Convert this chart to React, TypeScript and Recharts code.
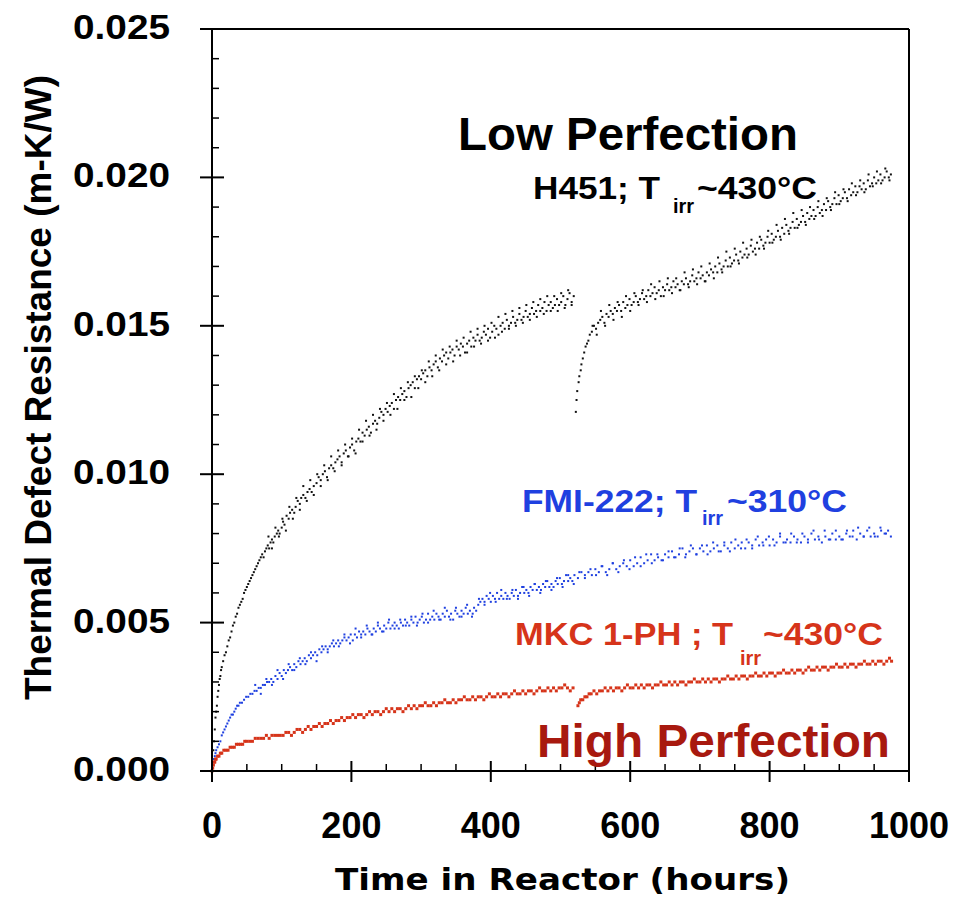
import React from "react";
import { ScatterChart, Scatter, XAxis, YAxis } from "recharts";

// ---- data: [hours, m-K/W] ----
const h451Before: [number, number][] = [
  [0, 0], [1, 0.0004], [2, 0.0007], [3, 0.001], [4, 0.0014], [5, 0.0018], [6, 0.002], [7, 0.0022], [8, 0.0025], [9, 0.0027],
  [10, 0.0029], [11, 0.0031], [12, 0.0032], [13, 0.0034], [14, 0.0035], [16, 0.0037], [18, 0.0039], [20, 0.004], [22, 0.0042],
  [24, 0.0044], [26, 0.0045], [28, 0.0047], [30, 0.0049], [32, 0.005], [34, 0.0052], [36, 0.0053], [38, 0.0055], [40, 0.0056],
  [42, 0.0057], [44, 0.0058], [46, 0.006], [48, 0.0061], [50, 0.0062], [52, 0.0063], [54, 0.0064], [56, 0.0065], [58, 0.0066],
  [60, 0.0067], [62, 0.0068], [64, 0.0069], [66, 0.007], [68, 0.0071], [70, 0.0072], [72, 0.0073], [74, 0.0072], [76, 0.0074],
  [78, 0.0075], [80, 0.0076], [82, 0.0075], [84, 0.0077], [86, 0.0078], [88, 0.0077], [90, 0.0079], [93, 0.008], [95, 0.0081],
  [97, 0.008], [100, 0.0082], [102, 0.0084], [104, 0.0083], [107, 0.0086], [110, 0.0085], [112, 0.0087], [115, 0.0088],
  [118, 0.0087], [120, 0.0089], [123, 0.0091], [126, 0.009], [128, 0.0092], [131, 0.0093], [134, 0.0092], [137, 0.0094],
  [140, 0.0095], [143, 0.0094], [146, 0.0096], [150, 0.0097], [153, 0.0099], [156, 0.0098], [159, 0.01], [162, 0.0101],
  [165, 0.0099], [168, 0.0102], [171, 0.0103], [174, 0.0102], [177, 0.0104], [180, 0.0105], [183, 0.0106], [186, 0.0104],
  [189, 0.0107], [192, 0.0108], [195, 0.0106], [198, 0.0109], [201, 0.011], [204, 0.0108], [207, 0.0111], [210, 0.0112],
  [213, 0.0111], [216, 0.0114], [219, 0.0113], [222, 0.0115], [225, 0.0116], [228, 0.0114], [231, 0.0117], [234, 0.0118],
  [237, 0.0117], [240, 0.0119], [243, 0.0121], [246, 0.012], [249, 0.0122], [252, 0.0121], [255, 0.0123], [258, 0.0124],
  [261, 0.0122], [264, 0.0125], [267, 0.0126], [270, 0.0125], [273, 0.0127], [276, 0.0128], [279, 0.0126], [282, 0.0129],
  [285, 0.013], [288, 0.0131], [291, 0.0129], [294, 0.0132], [297, 0.0133], [300, 0.0132], [303, 0.0134], [306, 0.0135],
  [309, 0.0133], [312, 0.0136], [315, 0.0135], [318, 0.0137], [321, 0.0138], [324, 0.0136], [327, 0.0139], [330, 0.0138],
  [333, 0.014], [336, 0.0141], [339, 0.0139], [342, 0.0141], [345, 0.0142], [348, 0.014], [351, 0.0143], [354, 0.0142],
  [357, 0.0144], [360, 0.0143], [363, 0.0141], [366, 0.0144], [369, 0.0145], [372, 0.0143], [375, 0.0146], [378, 0.0145],
  [381, 0.0147], [384, 0.0145], [387, 0.0146], [390, 0.0148], [393, 0.0147], [396, 0.0149], [399, 0.0146], [402, 0.0148],
  [405, 0.015], [408, 0.0149], [411, 0.0147], [414, 0.015], [417, 0.0151], [420, 0.0149], [423, 0.0152], [426, 0.015],
  [429, 0.0151], [432, 0.0153], [435, 0.0151], [438, 0.0152], [441, 0.0154], [444, 0.0152], [447, 0.0153], [450, 0.0155],
  [453, 0.0153], [456, 0.0154], [459, 0.0156], [462, 0.0154], [465, 0.0155], [468, 0.0157], [471, 0.0155], [474, 0.0156],
  [477, 0.0158], [480, 0.0155], [483, 0.0157], [486, 0.0158], [489, 0.0156], [492, 0.0157], [495, 0.0159], [498, 0.0157],
  [501, 0.0158], [504, 0.016], [507, 0.0157], [510, 0.0159], [513, 0.0161], [516, 0.0158], [519, 0.016],
];

// outer scatter of the H451 band before the gap
const h451BeforeSpread: [number, number][] = [
  [81, 0.0079], [86, 0.0075], [91, 0.0082], [96, 0.0079], [101, 0.0085], [106, 0.0081], [111, 0.0089], [116, 0.0085],
  [121, 0.0092], [126, 0.0088], [131, 0.0096], [136, 0.0091], [141, 0.0098], [146, 0.0093], [151, 0.01], [156, 0.0096],
  [161, 0.0103], [166, 0.0098], [171, 0.0106], [176, 0.0101], [181, 0.0108], [186, 0.0103], [191, 0.011], [196, 0.0106],
  [201, 0.0112], [206, 0.0107], [211, 0.0115], [216, 0.0111], [221, 0.0118], [226, 0.0113], [231, 0.012], [236, 0.0115],
  [241, 0.0122], [246, 0.0118], [251, 0.0124], [256, 0.012], [261, 0.0127], [266, 0.0122], [271, 0.0129], [276, 0.0125],
  [281, 0.0131], [286, 0.0126], [291, 0.0133], [296, 0.0129], [301, 0.0135], [306, 0.0131], [311, 0.0138], [316, 0.0133],
  [321, 0.014], [326, 0.0135], [331, 0.0142], [336, 0.0137], [341, 0.0143], [346, 0.0138], [351, 0.0145], [356, 0.014],
  [361, 0.0146], [366, 0.0141], [371, 0.0148], [376, 0.0143], [381, 0.0149], [386, 0.0144], [391, 0.015], [396, 0.0145],
  [401, 0.0151], [406, 0.0146], [411, 0.0153], [416, 0.0148], [421, 0.0154], [426, 0.0149], [431, 0.0155], [436, 0.015],
  [441, 0.0156], [446, 0.0151], [451, 0.0157], [456, 0.0152], [461, 0.0158], [466, 0.0153], [471, 0.0159], [476, 0.0154],
  [481, 0.016], [486, 0.0155], [491, 0.016], [496, 0.0155], [501, 0.0161], [506, 0.0156], [511, 0.0162], [516, 0.0157],
];

const h451After: [number, number][] = [
  [522, 0.0121], [523, 0.0125], [524, 0.0128], [526, 0.0131], [527, 0.0133], [529, 0.0135], [530, 0.0137], [532, 0.0139],
  [534, 0.0141], [536, 0.0143], [538, 0.0144], [540, 0.0145], [542, 0.0147], [545, 0.0148], [548, 0.015], [551, 0.0149],
  [554, 0.0151], [557, 0.0152], [560, 0.0153], [563, 0.0151], [566, 0.0154], [569, 0.0153], [572, 0.0155], [575, 0.0154],
  [578, 0.0156], [581, 0.0155], [584, 0.0157], [587, 0.0155], [590, 0.0158], [593, 0.0156], [596, 0.0157], [599, 0.0159],
  [602, 0.0157], [605, 0.0158], [608, 0.016], [611, 0.0158], [614, 0.0159], [617, 0.0161], [620, 0.0159], [623, 0.016],
  [626, 0.0162], [629, 0.016], [632, 0.0161], [635, 0.0163], [638, 0.0161], [641, 0.0162], [644, 0.016], [647, 0.0163],
  [650, 0.0162], [653, 0.0164], [656, 0.0162], [659, 0.0163], [662, 0.0165], [665, 0.0163], [668, 0.0164], [671, 0.0162],
  [674, 0.0165], [677, 0.0164], [680, 0.0166], [683, 0.0164], [686, 0.0165], [689, 0.0167], [692, 0.0165], [695, 0.0166],
  [698, 0.0168], [701, 0.0166], [704, 0.0167], [707, 0.0165], [710, 0.0168], [713, 0.0167], [716, 0.0169], [719, 0.0168],
  [722, 0.017], [725, 0.0168], [728, 0.0171], [731, 0.0169], [734, 0.017], [737, 0.0172], [740, 0.017], [743, 0.0173],
  [746, 0.0171], [749, 0.0172], [752, 0.0174], [755, 0.0172], [758, 0.0175], [761, 0.0173], [764, 0.0174], [767, 0.0176],
  [770, 0.0174], [773, 0.0177], [776, 0.0175], [779, 0.0176], [782, 0.0178], [785, 0.0176], [788, 0.0179], [791, 0.0177],
  [794, 0.0178], [797, 0.018], [800, 0.0178], [803, 0.0181], [806, 0.0179], [809, 0.018], [812, 0.0182], [815, 0.018],
  [818, 0.0183], [821, 0.0181], [824, 0.0184], [827, 0.0182], [830, 0.0183], [833, 0.0185], [836, 0.0183], [839, 0.0186],
  [842, 0.0184], [845, 0.0185], [848, 0.0187], [851, 0.0185], [854, 0.0188], [857, 0.0186], [860, 0.0187], [863, 0.0189],
  [866, 0.0187], [869, 0.019], [872, 0.0188], [875, 0.0189], [878, 0.0191], [881, 0.0189], [884, 0.0192], [887, 0.019],
  [890, 0.0191], [893, 0.0193], [896, 0.0191], [899, 0.0194], [902, 0.0192], [905, 0.0193], [908, 0.0195], [911, 0.0193],
  [914, 0.0196], [917, 0.0194], [920, 0.0195], [923, 0.0197], [926, 0.0195], [929, 0.0197], [932, 0.0196], [935, 0.0198],
  [938, 0.0196], [941, 0.0199], [944, 0.0197], [947, 0.0198], [950, 0.02], [953, 0.0198], [956, 0.0199], [959, 0.0201],
  [962, 0.0199], [965, 0.02], [968, 0.0202], [971, 0.02], [974, 0.0201],
];

const h451AfterSpread: [number, number][] = [
  [546, 0.015], [552, 0.0147], [558, 0.0155], [564, 0.015], [570, 0.0157], [576, 0.0152], [582, 0.0158], [588, 0.0153],
  [594, 0.016], [600, 0.0155], [606, 0.0161], [612, 0.0157], [618, 0.0162], [624, 0.0158], [630, 0.0164], [636, 0.0159],
  [642, 0.0165], [648, 0.016], [654, 0.0166], [660, 0.0161], [666, 0.0166], [672, 0.0162], [678, 0.0168], [684, 0.0163],
  [690, 0.0169], [696, 0.0164], [702, 0.017], [708, 0.0165], [714, 0.0171], [720, 0.0166], [726, 0.0173], [732, 0.0168],
  [738, 0.0175], [744, 0.017], [750, 0.0176], [756, 0.0171], [762, 0.0178], [768, 0.0173], [774, 0.0179], [780, 0.0174],
  [786, 0.018], [792, 0.0176], [798, 0.0182], [804, 0.0178], [810, 0.0184], [816, 0.0179], [822, 0.0186], [828, 0.0181],
  [834, 0.0188], [840, 0.0183], [846, 0.0189], [852, 0.0184], [858, 0.019], [864, 0.0186], [870, 0.0192], [876, 0.0187],
  [882, 0.0193], [888, 0.0189], [894, 0.0195], [900, 0.0191], [906, 0.0196], [912, 0.0192], [918, 0.0198], [924, 0.0194],
  [930, 0.0199], [936, 0.0195], [942, 0.0201], [948, 0.0197], [954, 0.0202], [960, 0.0198], [966, 0.0203], [972, 0.0199],
];

const fmi222: [number, number][] = [
  [0, 0], [1, 0.0002], [2, 0.0003], [3, 0.0004], [4, 0.0005], [5, 0.0006], [6, 0.0007], [8, 0.0008], [10, 0.0009], [12, 0.001],
  [14, 0.0012], [16, 0.0013], [18, 0.0014], [20, 0.0015], [22, 0.0016], [24, 0.0017], [26, 0.0018], [28, 0.0019], [30, 0.0019],
  [32, 0.002], [34, 0.0021], [36, 0.0022], [38, 0.0022], [40, 0.0023], [43, 0.0023], [46, 0.0024], [49, 0.0025], [52, 0.0025],
  [55, 0.0026], [58, 0.0026], [61, 0.0027], [64, 0.0027], [67, 0.0028], [70, 0.0028], [73, 0.0029], [76, 0.0029], [79, 0.003],
  [82, 0.003], [85, 0.0031], [88, 0.003], [91, 0.0032], [94, 0.0031], [97, 0.0033], [100, 0.0032], [103, 0.0034], [106, 0.0033],
  [109, 0.0034], [112, 0.0035], [115, 0.0034], [118, 0.0036], [121, 0.0035], [124, 0.0037], [127, 0.0036], [130, 0.0037],
  [133, 0.0038], [136, 0.0037], [139, 0.0039], [142, 0.0038], [145, 0.0039], [148, 0.004], [151, 0.0039], [154, 0.0041],
  [157, 0.004], [160, 0.0041], [163, 0.0042], [166, 0.0041], [169, 0.0042], [172, 0.0043], [175, 0.0042], [178, 0.0043],
  [181, 0.0044], [184, 0.0043], [187, 0.0044], [190, 0.0045], [193, 0.0044], [196, 0.0045], [199, 0.0046], [202, 0.0044],
  [205, 0.0046], [208, 0.0045], [211, 0.0047], [214, 0.0046], [217, 0.0047], [220, 0.0046], [223, 0.0048], [226, 0.0047],
  [229, 0.0046], [232, 0.0048], [235, 0.0047], [238, 0.0049], [241, 0.0048], [244, 0.0047], [247, 0.0049], [250, 0.0048],
  [253, 0.005], [256, 0.0048], [259, 0.0049], [262, 0.005], [265, 0.0049], [268, 0.0048], [271, 0.005], [274, 0.0049],
  [277, 0.0051], [280, 0.005], [283, 0.0049], [286, 0.0051], [289, 0.005], [292, 0.0052], [295, 0.005], [298, 0.0051],
  [301, 0.0052], [304, 0.005], [307, 0.0051], [310, 0.0053], [313, 0.0051], [316, 0.0052], [319, 0.0051], [322, 0.0053],
  [325, 0.0052], [328, 0.0051], [331, 0.0053], [334, 0.0052], [337, 0.0054], [340, 0.0052], [343, 0.0053], [346, 0.0051],
  [349, 0.0054], [352, 0.0053], [355, 0.0052], [358, 0.0054], [361, 0.0053], [364, 0.0055], [367, 0.0053], [370, 0.0054],
  [373, 0.0052], [376, 0.0055], [379, 0.0054], [382, 0.0056], [385, 0.0057], [388, 0.0058], [391, 0.0057], [394, 0.0059],
  [397, 0.0058], [400, 0.0057], [403, 0.0059], [406, 0.0058], [409, 0.006], [412, 0.0058], [415, 0.0059], [418, 0.0058],
  [421, 0.006], [424, 0.0059], [427, 0.0058], [430, 0.006], [433, 0.0059], [436, 0.0061], [439, 0.0059], [442, 0.006],
  [445, 0.0062], [448, 0.006], [451, 0.0061], [454, 0.006], [457, 0.0062], [460, 0.0061], [463, 0.0063], [466, 0.0061],
  [469, 0.0062], [472, 0.0061], [475, 0.0063], [478, 0.0062], [481, 0.0064], [484, 0.0062], [487, 0.0063], [490, 0.0062],
  [493, 0.0064], [496, 0.0063], [499, 0.0065], [502, 0.0063], [505, 0.0064], [508, 0.0066], [511, 0.0064], [514, 0.0065],
  [517, 0.0064], [520, 0.0066], [525, 0.0065], [530, 0.0067], [535, 0.0066], [540, 0.0067], [545, 0.0066], [550, 0.0068],
  [555, 0.0067], [560, 0.0069], [565, 0.0067], [570, 0.0068], [575, 0.007], [580, 0.0068], [585, 0.0069], [590, 0.007],
  [595, 0.0069], [600, 0.0071], [605, 0.0069], [610, 0.007], [615, 0.0072], [620, 0.007], [625, 0.0071], [630, 0.0073],
  [635, 0.0071], [640, 0.0072], [645, 0.0071], [650, 0.0073], [655, 0.0072], [660, 0.0074], [665, 0.0072], [670, 0.0073],
  [675, 0.0075], [680, 0.0073], [685, 0.0074], [690, 0.0075], [695, 0.0073], [700, 0.0075], [705, 0.0074], [710, 0.0076],
  [715, 0.0074], [720, 0.0075], [725, 0.0076], [730, 0.0074], [735, 0.0076], [740, 0.0075], [745, 0.0077], [750, 0.0075],
  [755, 0.0076], [760, 0.0077], [765, 0.0075], [770, 0.0077], [775, 0.0076], [780, 0.0078], [785, 0.0076], [790, 0.0077],
  [795, 0.0078], [800, 0.0076], [805, 0.0078], [810, 0.0077], [815, 0.0079], [820, 0.0077], [825, 0.0078], [830, 0.0077],
  [835, 0.0079], [840, 0.0078], [845, 0.0077], [850, 0.0079], [855, 0.0078], [860, 0.008], [865, 0.0078], [870, 0.0079],
  [875, 0.0077], [880, 0.0079], [885, 0.0078], [890, 0.008], [895, 0.0078], [900, 0.0079], [905, 0.0078], [910, 0.008],
  [915, 0.0079], [920, 0.0081], [925, 0.0078], [930, 0.008], [935, 0.0079], [940, 0.0081], [945, 0.0079], [950, 0.008],
  [955, 0.0079], [960, 0.0081], [965, 0.008], [970, 0.0081], [974, 0.0079],
];

const fmi222Spread: [number, number][] = [
  [62, 0.0029], [70, 0.0026], [78, 0.0031], [86, 0.0029], [94, 0.0034], [102, 0.0031], [110, 0.0036], [118, 0.0034],
  [126, 0.0038], [134, 0.0036], [142, 0.004], [150, 0.0037], [158, 0.0042], [166, 0.004], [174, 0.0044], [182, 0.0042],
  [190, 0.0046], [198, 0.0043], [206, 0.0048], [214, 0.0045], [222, 0.0049], [230, 0.0046], [238, 0.005], [246, 0.0047],
  [254, 0.0051], [262, 0.0048], [270, 0.0051], [278, 0.0049], [286, 0.0052], [294, 0.0049], [302, 0.0053], [310, 0.005],
  [318, 0.0054], [326, 0.0051], [334, 0.0055], [342, 0.0051], [350, 0.0055], [358, 0.0052], [366, 0.0056], [374, 0.0053],
  [383, 0.0058], [391, 0.0056], [399, 0.006], [407, 0.0057], [415, 0.0061], [423, 0.0058], [431, 0.0061], [439, 0.0058],
  [447, 0.0062], [455, 0.0059], [463, 0.0063], [471, 0.006], [479, 0.0064], [487, 0.0061], [495, 0.0065], [503, 0.0062],
  [511, 0.0066], [519, 0.0063], [527, 0.0067], [535, 0.0065], [543, 0.0068], [551, 0.0066], [559, 0.0069], [567, 0.0066],
  [575, 0.007], [583, 0.0067], [591, 0.0071], [599, 0.0068], [607, 0.0072], [615, 0.0069], [623, 0.0073], [631, 0.007],
  [639, 0.0073], [647, 0.0071], [655, 0.0074], [663, 0.0072], [671, 0.0075], [679, 0.0072], [687, 0.0076], [695, 0.0073],
  [703, 0.0076], [711, 0.0073], [719, 0.0077], [727, 0.0074], [735, 0.0077], [743, 0.0074], [751, 0.0078], [759, 0.0075],
  [767, 0.0078], [775, 0.0075], [783, 0.0079], [791, 0.0076], [799, 0.0079], [807, 0.0076], [815, 0.008], [823, 0.0077],
  [831, 0.008], [839, 0.0077], [847, 0.008], [855, 0.0077], [863, 0.0081], [871, 0.0078], [879, 0.0081], [887, 0.0078],
  [895, 0.0081], [903, 0.0078], [911, 0.0081], [919, 0.0079], [927, 0.0082], [935, 0.0079], [943, 0.0082], [951, 0.0079],
  [959, 0.0082], [967, 0.008],
];

const mkcBefore: [number, number][] = [
  [0, 0], [1, 0.0001], [2, 0.0002], [3, 0.0003], [4, 0.0003], [5, 0.0004], [6, 0.0004], [8, 0.0005], [10, 0.0005], [12, 0.0006],
  [14, 0.0006], [17, 0.0007], [20, 0.0007], [23, 0.0007], [26, 0.0008], [29, 0.0008], [32, 0.0008], [35, 0.0009], [38, 0.0009],
  [41, 0.0009], [44, 0.0009], [47, 0.001], [50, 0.001], [54, 0.001], [58, 0.001], [62, 0.0011], [66, 0.0011], [70, 0.0011],
  [74, 0.0011], [78, 0.0012], [82, 0.0011], [86, 0.0012], [90, 0.0012], [94, 0.0012], [98, 0.0012], [102, 0.0012], [106, 0.0013],
  [110, 0.0013], [114, 0.0012], [118, 0.0013], [122, 0.0014], [126, 0.0014], [130, 0.0013], [134, 0.0014], [138, 0.0015],
  [142, 0.0014], [146, 0.0015], [150, 0.0015], [154, 0.0016], [158, 0.0015], [162, 0.0016], [166, 0.0016], [170, 0.0017],
  [174, 0.0016], [178, 0.0017], [182, 0.0017], [186, 0.0018], [190, 0.0017], [194, 0.0018], [198, 0.0018], [202, 0.0019],
  [206, 0.0018], [210, 0.0019], [214, 0.0019], [218, 0.0018], [222, 0.0019], [226, 0.002], [230, 0.0019], [234, 0.002],
  [238, 0.002], [242, 0.0019], [246, 0.002], [250, 0.0021], [254, 0.002], [258, 0.0021], [262, 0.002], [266, 0.0021],
  [270, 0.0021], [274, 0.002], [278, 0.0021], [282, 0.0022], [286, 0.0021], [290, 0.0022], [294, 0.0021], [298, 0.0022],
  [302, 0.0022], [306, 0.0023], [310, 0.0022], [314, 0.0022], [318, 0.0023], [322, 0.0022], [326, 0.0023], [330, 0.0023],
  [334, 0.0024], [338, 0.0023], [342, 0.0023], [346, 0.0024], [350, 0.0023], [354, 0.0024], [358, 0.0024], [362, 0.0025],
  [366, 0.0024], [370, 0.0024], [374, 0.0025], [378, 0.0024], [382, 0.0025], [386, 0.0025], [390, 0.0024], [394, 0.0025],
  [398, 0.0026], [402, 0.0025], [406, 0.0025], [410, 0.0026], [414, 0.0025], [418, 0.0026], [422, 0.0026], [426, 0.0025],
  [430, 0.0026], [434, 0.0027], [438, 0.0026], [442, 0.0026], [446, 0.0027], [450, 0.0026], [454, 0.0027], [458, 0.0027],
  [462, 0.0026], [466, 0.0027], [470, 0.0028], [474, 0.0027], [478, 0.0027], [482, 0.0028], [486, 0.0027], [490, 0.0028],
  [494, 0.0027], [498, 0.0028], [502, 0.0028], [506, 0.0029], [510, 0.0028], [514, 0.0027], [518, 0.0028],
];

const mkcAfter: [number, number][] = [
  [525, 0.0022], [527, 0.0023], [529, 0.0024], [532, 0.0024], [535, 0.0025], [538, 0.0025], [541, 0.0026], [544, 0.0026],
  [548, 0.0027], [552, 0.0026], [556, 0.0027], [560, 0.0027], [564, 0.0028], [568, 0.0027], [572, 0.0028], [576, 0.0027],
  [580, 0.0028], [584, 0.0028], [588, 0.0027], [592, 0.0028], [596, 0.0029], [600, 0.0028], [604, 0.0028], [608, 0.0029],
  [612, 0.0028], [616, 0.0029], [620, 0.0028], [624, 0.0029], [628, 0.0029], [632, 0.0028], [636, 0.0029], [640, 0.0029],
  [644, 0.003], [648, 0.0029], [652, 0.0029], [656, 0.003], [660, 0.0029], [664, 0.003], [668, 0.0029], [672, 0.003],
  [676, 0.003], [680, 0.0029], [684, 0.003], [688, 0.003], [692, 0.0031], [696, 0.003], [700, 0.003], [704, 0.0031],
  [708, 0.003], [712, 0.0031], [716, 0.003], [720, 0.0031], [724, 0.0031], [728, 0.003], [732, 0.0031], [736, 0.0031],
  [740, 0.0032], [744, 0.0031], [748, 0.0031], [752, 0.0032], [756, 0.0031], [760, 0.0032], [764, 0.0032], [768, 0.0031],
  [772, 0.0032], [776, 0.0032], [780, 0.0033], [784, 0.0032], [788, 0.0032], [792, 0.0033], [796, 0.0032], [800, 0.0033],
  [804, 0.0033], [808, 0.0032], [812, 0.0033], [816, 0.0033], [820, 0.0034], [824, 0.0033], [828, 0.0033], [832, 0.0034],
  [836, 0.0033], [840, 0.0034], [844, 0.0034], [848, 0.0033], [852, 0.0034], [856, 0.0035], [860, 0.0034], [864, 0.0034],
  [868, 0.0035], [872, 0.0034], [876, 0.0035], [880, 0.0035], [884, 0.0034], [888, 0.0035], [892, 0.0035], [896, 0.0036],
  [900, 0.0035], [904, 0.0035], [908, 0.0036], [912, 0.0035], [916, 0.0036], [920, 0.0036], [924, 0.0035], [928, 0.0036],
  [932, 0.0036], [936, 0.0037], [940, 0.0036], [944, 0.0036], [948, 0.0037], [952, 0.0036], [956, 0.0037], [960, 0.0037],
  [964, 0.0036], [968, 0.0037], [972, 0.0038], [975, 0.0037],
];

const xTicks = [0, 50, 100, 150, 200, 250, 300, 350, 400, 450, 500, 550, 600, 650, 700, 750, 800, 850, 900, 950, 1000];
const yTicks = [
  0, 0.001, 0.002, 0.003, 0.004, 0.005, 0.006, 0.007, 0.008, 0.009, 0.01, 0.011, 0.012,
  0.013, 0.014, 0.015, 0.016, 0.017, 0.018, 0.019, 0.02, 0.021, 0.022, 0.023, 0.024, 0.025,
];

const toRows = (pts: [number, number][]) => pts.map(([t, v]) => ({ t, v }));

const isMajorX = (v: number) => v % 200 === 0;
const isMajorY = (v: number) => Math.round(v * 1000) % 5 === 0;

const font = "Liberation Sans, Arial, Helvetica, sans-serif";

const BottomTick = ({ x, y, payload }: any) => {
  const major = isMajorX(payload.value);
  return (
    <g>
      <line x1={x} x2={x} y1={y - (major ? 10 : 7)} y2={y + (major ? 11 : 0)} stroke="#000" strokeWidth={major ? 2 : 1.5} />
      {major && (
        <text x={x} y={y + 67} textAnchor="middle" fontFamily={font} fontWeight="bold" fontSize={36} fill="#000">
          {payload.value}
        </text>
      )}
    </g>
  );
};

const TopTick = ({ x, y, payload }: any) => {
  const major = isMajorX(payload.value);
  return <line x1={x} x2={x} y1={y - (major ? 11 : 0)} y2={y + (major ? 10 : 7)} stroke="#000" strokeWidth={major ? 2 : 1.5} />;
};

const LeftTick = ({ x, y, payload }: any) => {
  const major = isMajorY(payload.value);
  return (
    <g>
      <line x1={x - (major ? 12 : 0)} x2={x + (major ? 12 : 7)} y1={y} y2={y} stroke="#000" strokeWidth={major ? 2 : 1.5} />
      {major && (
        <text x={73} y={y + 10} fontFamily={font} fontWeight="bold" fontSize={35} textLength={97} lengthAdjust="spacingAndGlyphs" fill="#000">
          {payload.value.toFixed(3)}
        </text>
      )}
    </g>
  );
};

const RightTick = ({ x, y, payload }: any) => {
  const major = isMajorY(payload.value);
  return <line x1={x - (major ? 11 : 7)} x2={x + (major ? 11 : 0)} y1={y} y2={y} stroke="#000" strokeWidth={major ? 2 : 1.5} />;
};

const dot = (color: string, w: number, h: number) => (p: any) => (
  <rect x={p.cx - w / 2} y={p.cy - h / 2} width={w} height={h} fill={color} />
);

const BLACK = "#111111";
const BLUE = "#1f40e0";
const RED = "#d6341a";
const DARKRED = "#a8190f";

export default function App() {
  const axisLine = { stroke: "#000", strokeWidth: 2 };
  return (
    <div style={{ position: "absolute", left: 0, top: 0, width: 956, height: 898, background: "#fff" }}>
      <ScatterChart width={956} height={898} margin={{ top: 28, right: 46, bottom: 0, left: 0 }}>
        <XAxis xAxisId="b" type="number" dataKey="t" domain={[0, 1000]} ticks={xTicks} interval={0} height={127}
          tickLine={false} tickSize={0} tickMargin={0} axisLine={axisLine} tick={<BottomTick />} />
        <XAxis xAxisId="top" orientation="top" type="number" dataKey="t" domain={[0, 1000]} ticks={xTicks} interval={0} height={1}
          tickLine={false} tickSize={0} tickMargin={0} axisLine={axisLine} tick={<TopTick />} />
        <YAxis yAxisId="l" type="number" dataKey="v" domain={[0, 0.025]} ticks={yTicks} interval={0} width={212}
          tickLine={false} tickSize={0} tickMargin={0} axisLine={axisLine} tick={<LeftTick />} />
        <YAxis yAxisId="r" orientation="right" type="number" dataKey="v" domain={[0, 0.025]} ticks={yTicks} interval={0} width={1}
          tickLine={false} tickSize={0} tickMargin={0} axisLine={axisLine} tick={<RightTick />} />
        <Scatter xAxisId="b" yAxisId="l" data={toRows(h451Before)} shape={dot(BLACK, 2, 2)} isAnimationActive={false} />
        <Scatter xAxisId="b" yAxisId="l" data={toRows(h451BeforeSpread)} shape={dot(BLACK, 2, 2)} isAnimationActive={false} />
        <Scatter xAxisId="b" yAxisId="l" data={toRows(h451After)} shape={dot(BLACK, 2, 2)} isAnimationActive={false} />
        <Scatter xAxisId="b" yAxisId="l" data={toRows(h451AfterSpread)} shape={dot(BLACK, 2, 2)} isAnimationActive={false} />
        <Scatter xAxisId="b" yAxisId="l" data={toRows(fmi222)} shape={dot(BLUE, 2, 2)} isAnimationActive={false} />
        <Scatter xAxisId="b" yAxisId="l" data={toRows(fmi222Spread)} shape={dot(BLUE, 2, 2)} isAnimationActive={false} />
        <Scatter xAxisId="b" yAxisId="l" data={toRows(mkcBefore)} shape={dot(RED, 3, 3)} isAnimationActive={false} />
        <Scatter xAxisId="b" yAxisId="l" data={toRows(mkcAfter)} shape={dot(RED, 3, 3)} isAnimationActive={false} />
      </ScatterChart>

      {/* titles and annotations */}
      <svg width={956} height={898} style={{ position: "absolute", left: 0, top: 0, pointerEvents: "none" }}>
        <text x={335} y={890} fontFamily="DejaVu Sans, sans-serif" fontWeight="bold" fontSize={31} textLength={455} lengthAdjust="spacingAndGlyphs">
          Time in Reactor (hours)
        </text>
        <text transform="translate(51,700) rotate(-90)" fontFamily={font} fontWeight="bold" fontSize={36} textLength={625} lengthAdjust="spacingAndGlyphs">
          Thermal Defect Resistance (m-K/W)
        </text>

        <text x={458} y={150} fontFamily={font} fontWeight="bold" fontSize={46} textLength={340} lengthAdjust="spacingAndGlyphs" fill="#000">
          Low Perfection
        </text>
        <g fontFamily={font} fontWeight="bold" fill="#000">
          <text x={533} y={199} fontSize={32} textLength={127} lengthAdjust="spacingAndGlyphs">H451; T</text>
          <text x={673} y={213} fontSize={20}>irr</text>
          <text x={697} y={199} fontSize={32} textLength={120} lengthAdjust="spacingAndGlyphs">~430°C</text>
        </g>
        <g fontFamily={font} fontWeight="bold" fill={BLUE}>
          <text x={522} y={512} fontSize={32} textLength={175} lengthAdjust="spacingAndGlyphs">FMI-222; T</text>
          <text x={702} y={525} fontSize={20}>irr</text>
          <text x={727} y={512} fontSize={32} textLength={120} lengthAdjust="spacingAndGlyphs">~310°C</text>
        </g>
        <g fontFamily={font} fontWeight="bold" fill={RED}>
          <text x={515} y={645} fontSize={32} textLength={218} lengthAdjust="spacingAndGlyphs">MKC 1-PH ; T</text>
          <text x={740} y={665} fontSize={20}>irr</text>
          <text x={763} y={645} fontSize={32} textLength={120} lengthAdjust="spacingAndGlyphs">~430°C</text>
        </g>
        <text x={537} y={757} fontFamily={font} fontWeight="bold" fontSize={46} textLength={353} lengthAdjust="spacingAndGlyphs" fill={DARKRED}>
          High Perfection
        </text>
      </svg>
    </div>
  );
}
